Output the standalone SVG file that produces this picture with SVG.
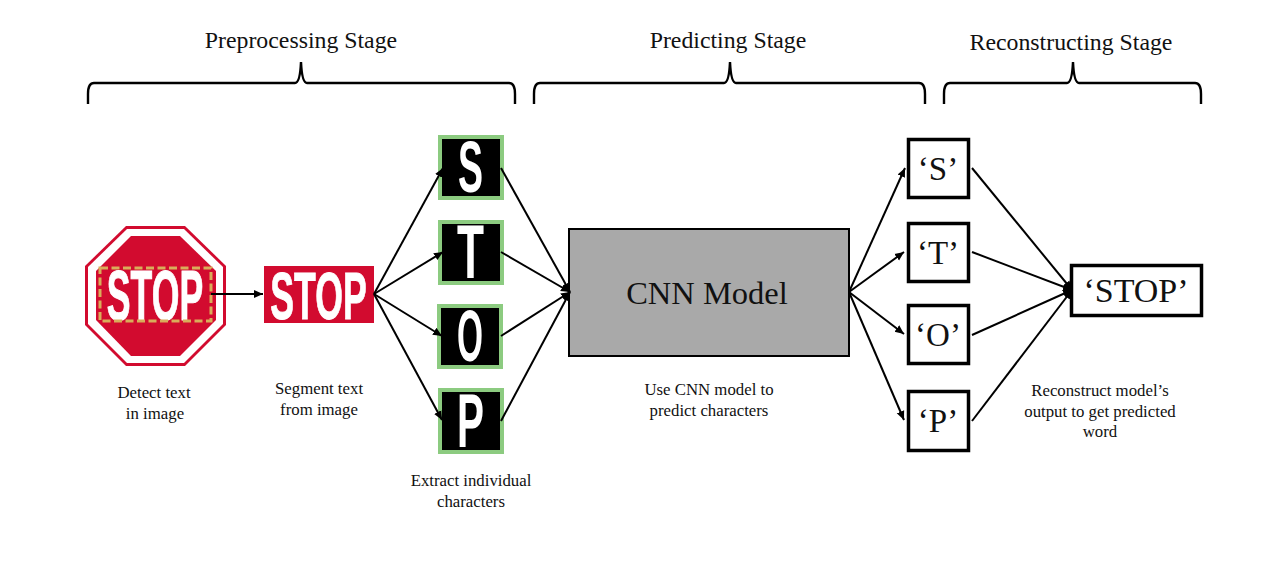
<svg xmlns="http://www.w3.org/2000/svg" width="1280" height="572" viewBox="0 0 1280 572">
<style>
text{font-family:"Liberation Serif","Times New Roman",serif;fill:#111;text-anchor:middle}
.title{font-size:23.8px}
.cap{font-size:16.8px}
.big{font-size:32.5px}
.val{font-size:33px}
.stop{font-family:"Liberation Sans",Arial,sans-serif;font-weight:700;fill:#fff;stroke:#fff;stroke-width:1}
.ch{font-family:"Liberation Sans",Arial,sans-serif;font-weight:700;fill:#fff;font-size:72px}
.tile{fill:#000;stroke:#8ccb80;stroke-width:4}
.box{fill:#fff;stroke:#000;stroke-width:3.5}
.line{fill:none;stroke:#000;stroke-width:2}
.brace{fill:none;stroke:#000;stroke-width:2.4}
</style>
<defs>
<marker id="arr" markerUnits="userSpaceOnUse" markerWidth="10" markerHeight="10" refX="9" refY="5" orient="auto"><path d="M0 1L9 5L0 9Z" fill="#000"/></marker>
</defs>
<rect width="1280" height="572" fill="#fff"/>
<g id="brace-preprocessing"><path class="brace" d="M88 104V94Q88 83 94 83H295Q300 83 301 62Q302 83 307 83H509Q515 83 515 94V104"/><text class="title" x="301" y="47.5">Preprocessing Stage</text></g>
<g id="brace-predicting"><path class="brace" d="M534 104V94Q534 83 540 83H724Q729 83 730 62Q731 83 736 83H919Q925 83 925 94V104"/><text class="title" x="728" y="47.5">Predicting Stage</text></g>
<g id="brace-reconstructing"><path class="brace" d="M944 104V94Q944 83 950 83H1067Q1072 83 1073 62Q1074 83 1079 83H1195Q1201 83 1201 94V104"/><text class="title" x="1071" y="49.5">Reconstructing Stage</text></g>
<g id="stop-sign">
<polygon points="126,226 185,226 226,266 226,325 185,366 126,366 85,325 85,266" fill="#d20b2f"/>
<polygon points="127,229 184,229 223,267 223,324 184,363 127,363 88,324 88,267" fill="#fff"/>
<polygon points="131,236 180,236 216,271 216,320 180,356 131,356 96,320 96,271" fill="#d20b2f"/>
<text class="stop" transform="translate(155 320) scale(.509 1)" font-size="70">STOP</text>
<rect x="100" y="268" width="111" height="53" fill="none" stroke="#d9ad5a" stroke-width="3" stroke-dasharray="8 3.5"/>
<text class="cap" x="154" y="398">Detect text</text><text class="cap" x="155" y="419">in image</text>
</g>
<g id="stop-crop">
<rect x="264" y="266" width="110" height="57" fill="#d20b2f"/>
<text class="stop" transform="translate(318.5 319) scale(.532 1)" font-size="67">STOP</text>
<text class="cap" x="319" y="394">Segment text</text><text class="cap" x="319" y="415">from image</text>
</g>
<g id="tile-s"><rect class="tile" x="440" y="137" width="62" height="61"/><text class="ch" x="470.5" y="192" textLength="25" lengthAdjust="spacingAndGlyphs">S</text></g>
<g id="tile-t"><rect class="tile" x="440" y="222" width="62" height="61"/><text class="ch" x="470.5" y="278" style="font-size:76px" textLength="27" lengthAdjust="spacingAndGlyphs">T</text></g>
<g id="tile-o"><rect class="tile" x="439" y="306" width="62" height="61"/><text class="ch" x="470" y="361" textLength="26" lengthAdjust="spacingAndGlyphs">O</text></g>
<g id="tile-p"><rect class="tile" x="440" y="390" width="62" height="62"/><text class="ch" x="470.5" y="447" style="font-size:76px" textLength="27" lengthAdjust="spacingAndGlyphs">P</text></g>
<text class="cap" x="471" y="486">Extract individual</text><text class="cap" x="471" y="507">characters</text>
<g id="cnn">
<rect x="569" y="229" width="280" height="127" fill="#a9a9a9" stroke="#000" stroke-width="2"/>
<text class="big" x="707" y="304">CNN Model</text>
<text class="cap" x="709" y="395">Use CNN model to</text><text class="cap" x="709" y="416">predict characters</text>
</g>
<g id="out-s"><rect class="box" x="908.5" y="139.5" width="60" height="58"/><text class="val" x="938" y="180">‘S’</text></g>
<g id="out-t"><rect class="box" x="908.5" y="223.5" width="60" height="58"/><text class="val" x="938" y="264">‘T’</text></g>
<g id="out-o"><rect class="box" x="908.5" y="305.5" width="60" height="58"/><text class="val" x="938" y="346">‘O’</text></g>
<g id="out-p"><rect class="box" x="908.5" y="391.5" width="60" height="59"/><text class="val" x="938" y="432">‘P’</text></g>
<g id="out-stop">
<rect class="box" x="1071.5" y="265.5" width="130" height="50"/><text class="val" x="1136" y="302" style="font-size:34px">‘STOP’</text>
<text class="cap" x="1100" y="396">Reconstruct model’s</text><text class="cap" x="1100" y="417">output to get predicted</text><text class="cap" x="1100" y="437">word</text>
</g>
<g id="connectors" class="line">
<path marker-end="url(#arr)" d="M211 294H263"/>
<path marker-end="url(#arr)" d="M374 294L443 168"/>
<path marker-end="url(#arr)" d="M374 294L443 252"/>
<path marker-end="url(#arr)" d="M374 294L442 336"/>
<path marker-end="url(#arr)" d="M374 294L442 420"/>
<path marker-end="url(#arr)" d="M501 168L570 292"/>
<path marker-end="url(#arr)" d="M501 252L570 292"/>
<path marker-end="url(#arr)" d="M501 336L570 292"/>
<path marker-end="url(#arr)" d="M501 421L570 292"/>
<path marker-end="url(#arr)" d="M849 292L905 168"/>
<path marker-end="url(#arr)" d="M849 292L904 252"/>
<path marker-end="url(#arr)" d="M849 292L904 334"/>
<path marker-end="url(#arr)" d="M849 292L904 420"/>
<path marker-end="url(#arr)" d="M972 168L1072 290"/>
<path marker-end="url(#arr)" d="M972 252L1072 290"/>
<path marker-end="url(#arr)" d="M972 335L1072 290"/>
<path marker-end="url(#arr)" d="M972 421L1072 290"/>
</g>
</svg>
